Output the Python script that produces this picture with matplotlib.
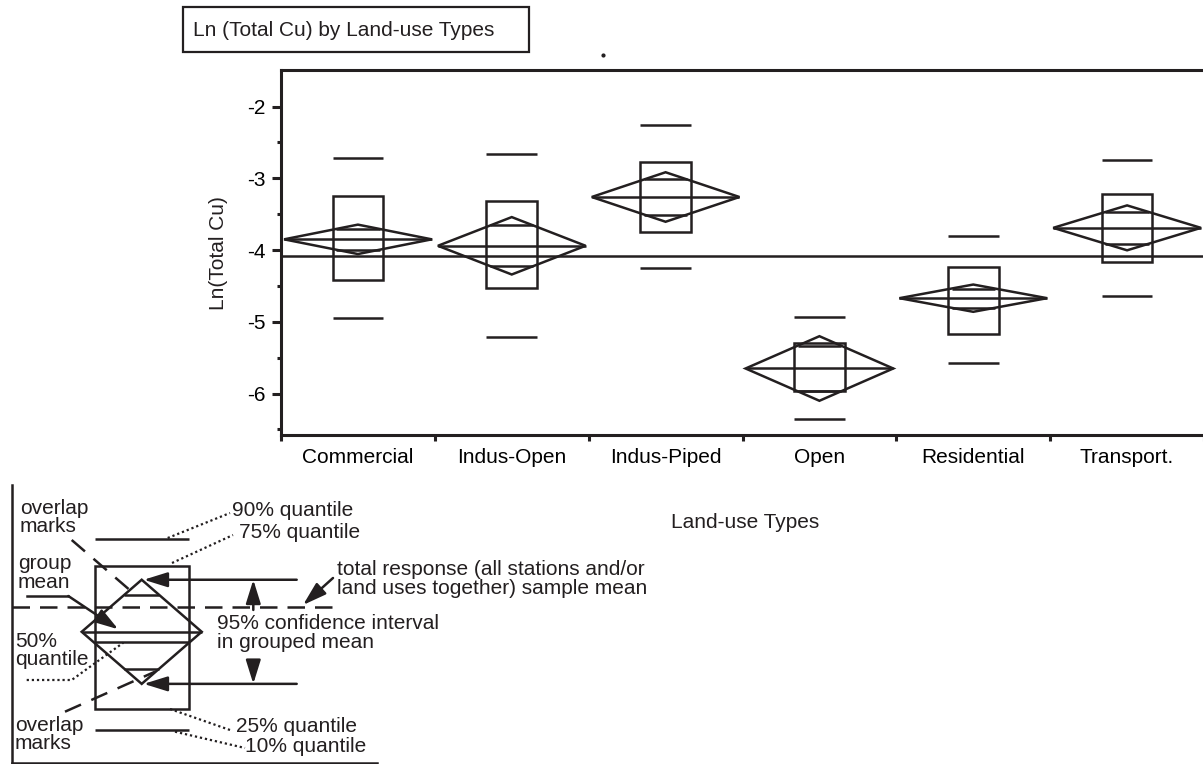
import numpy as np
import matplotlib.pyplot as plt
from matplotlib.patches import Rectangle, Polygon

plt.rcParams['font.family'] = ['Liberation Sans', 'DejaVu Sans']
plt.rcParams['font.size'] = 15

INK = '#231f20'
LW = 1.8

# Ln(Total Cu) summary per land-use type
land_use = ['Commercial', 'Indus-Open', 'Indus-Piped', 'Open', 'Residential', 'Transport.']
mean_ln = [-3.85, -3.94, -3.26, -5.65, -4.67, -3.69]
ci95_half = [0.205, 0.40, 0.345, 0.45, 0.19, 0.313]
q10 = [-4.94, -5.21, -4.25, -6.36, -5.57, -4.64]
q25 = [-4.41, -4.53, -3.75, -5.97, -5.17, -4.17]
q75 = [-3.24, -3.32, -2.77, -5.30, -4.24, -3.22]
q90 = [-2.72, -2.66, -2.25, -4.93, -3.80, -2.75]
grand_mean = -4.08

ytick_vals = [-6, -5, -4, -3, -2]
ytick_labels = ['-6', '-5', '-4', '-3', '-2']

# example group used in the key diagram (arbitrary units, mean at 0)
key_q10, key_q25, key_q50, key_q75, key_q90 = -1.89, -1.49, -0.19, 1.26, 1.78
key_mean, key_ci = 0.0, 1.0
key_total_mean = 0.47


def draw_group(ax, x, lo10, lo25, hi75, hi90, mu, ci, dia_w, box_w, med=None):
    # quantile box and 10/90% bars
    ax.add_patch(Rectangle((x - box_w, lo25), 2 * box_w, hi75 - lo25,
                           fill=False, ec=INK, lw=LW, joinstyle='miter'))
    ax.hlines([lo10, hi90], x - box_w, x + box_w, color=INK, lw=LW)
    if med is not None:
        ax.hlines(med, x - box_w, x + box_w, color=INK, lw=LW)
    # means diamond
    ax.add_patch(Polygon([(x - dia_w, mu), (x, mu + ci), (x + dia_w, mu), (x, mu - ci)],
                         closed=True, fill=False, ec=INK, lw=LW, joinstyle='miter'))
    ax.hlines(mu, x - dia_w, x + dia_w, color=INK, lw=LW)
    # overlap marks
    off = ci / np.sqrt(2)
    ow = dia_w * (1 - 1 / np.sqrt(2))
    ax.hlines([mu + off, mu - off], x - ow, x + ow, color=INK, lw=LW)


W, H = 1203, 764
fig = plt.figure(figsize=(W / 100, H / 100), dpi=100)

# main chart
ax = fig.add_axes([281 / W, 1 - 434.5 / H, 923 / W, 364.5 / H])
ax.set_xlim(0, 6)
ax.set_ylim(-6.57, -1.49)
for i, name in enumerate(land_use):
    draw_group(ax, i + 0.5, q10[i], q25[i], q75[i], q90[i],
               mean_ln[i], ci95_half[i], dia_w=0.48, box_w=0.165)
ax.axhline(grand_mean, color=INK, lw=LW)

ax.spines['right'].set_visible(False)
for s in ['left', 'top', 'bottom']:
    ax.spines[s].set_linewidth(2.2)
    ax.spines[s].set_color(INK)

ax.set_xticks(np.arange(7))
ax.set_xticklabels([])
ax.set_xticks(np.arange(6) + 0.5, minor=True)
ax.set_xticklabels(land_use, minor=True)
ax.tick_params(axis='x', which='major', length=4.5, width=2.2, color=INK)
ax.tick_params(axis='x', which='minor', length=0, pad=9.5, labelsize=15)

ax.set_yticks(ytick_vals)
ax.set_yticklabels(ytick_labels)
ax.set_yticks(np.arange(-6.5, -1.5, 0.5), minor=True)
ax.tick_params(axis='y', which='major', length=6.5, width=2.2, color=INK, pad=4.3, labelsize=15)
ax.tick_params(axis='y', which='minor', length=3.2, width=2.2, color=INK)

# key diagram
lax = fig.add_axes([12 / W, 1 - 763 / H, 365 / W, 278 / H])
lax.set_xlim(-129.7, 235.3)
lax.set_ylim(-2.52, 2.82)
lax.set_xticks([])
lax.set_yticks([])
for s in ['right', 'top']:
    lax.spines[s].set_visible(False)
for s in ['left', 'bottom']:
    lax.spines[s].set_linewidth(1.8)
    lax.spines[s].set_color(INK)
lax.patch.set_alpha(0)

draw_group(lax, 0, key_q10, key_q25, key_q75, key_q90, key_mean, key_ci,
           dia_w=60, box_w=47, med=key_q50)
lax.hlines(key_total_mean, -129.7, 191.3, color=INK, lw=LW, linestyles=(0, (7, 4)))

arrow = dict(arrowstyle='-|>,head_length=0.9,head_width=0.28', color=INK, lw=LW,
             shrinkA=0, shrinkB=0, mutation_scale=16)
for y in [key_mean + key_ci, key_mean - key_ci]:
    lax.annotate('', xy=(2, y), xytext=(155, y), arrowprops=arrow)
lax.annotate('', xy=(111.6, key_mean + key_ci), xytext=(111.6, key_total_mean - 0.05),
             arrowprops=arrow)
lax.annotate('', xy=(111.6, key_mean - key_ci), xytext=(111.6, -0.55), arrowprops=arrow)

# overlay in image pixel units for titles and leader lines
ov = fig.add_axes([0, 0, 1, 1], zorder=5)
ov.set_xlim(0, W)
ov.set_ylim(H, 0)
ov.axis('off')
ov.patch.set_alpha(0)

ov.add_patch(Rectangle((183, 7.3), 346, 45, fill=False, ec=INK, lw=1.6))
ov.text(193, 30, 'Ln (Total Cu) by Land-use Types', ha='left', va='center', color=INK)
ov.plot([603.3], [55], 'o', color=INK, ms=2)

ov.text(218, 253, 'Ln(Total Cu)', rotation=90, ha='center', va='center', color=INK)
ov.text(745, 523, 'Land-use Types', ha='center', va='center', color=INK)

ls = 0.95
ov.text(20, 517.5, 'overlap\nmarks', ha='left', va='center', linespacing=ls, color=INK)
ov.text(18, 573, 'group\nmean', ha='left', va='center', linespacing=ls, color=INK)
ov.text(15, 650.7, '50%\nquantile', ha='left', va='center', linespacing=ls, color=INK)
ov.text(15, 734.5, 'overlap\nmarks', ha='left', va='center', linespacing=ls, color=INK)
ov.text(232, 510, '90% quantile', ha='left', va='center', color=INK)
ov.text(239, 533, '75% quantile', ha='left', va='center', color=INK)
ov.text(236, 726.7, '25% quantile', ha='left', va='center', color=INK)
ov.text(245, 747, '10% quantile', ha='left', va='center', color=INK)
ov.text(337, 579, 'total response (all stations and/or\nland uses together) sample mean',
        ha='left', va='center', linespacing=ls, color=INK)
ov.text(216.7, 633, '95% confidence interval\nin grouped mean',
        ha='left', va='center', linespacing=ls, color=INK)

dotted = dict(color=INK, lw=1.6, linestyle=(0, (1, 1.3)))
ov.plot([167.7, 230], [538, 513], **dotted)
ov.plot([172, 233], [563, 535], **dotted)
ov.plot([170, 230], [709, 730], **dotted)
ov.plot([175, 245], [731.7, 748], **dotted)
ov.plot([26.7, 71.7, 123.3], [680, 680, 642.7], **dotted)

dashed = dict(color=INK, lw=1.8, linestyle=(0, (7, 4.5)))
ov.plot([71.7, 131.7], [540, 591.7], **dashed)
ov.plot([65, 155], [711.7, 671.7], **dashed)

ov.plot([26.7, 68.3], [596, 596], color=INK, lw=LW)
ov.annotate('', xy=(118.3, 629.3), xytext=(68.3, 596), arrowprops=arrow)
ov.annotate('', xy=(303, 605), xytext=(333, 578), arrowprops=arrow)

fig.savefig('out.png', dpi=100)
